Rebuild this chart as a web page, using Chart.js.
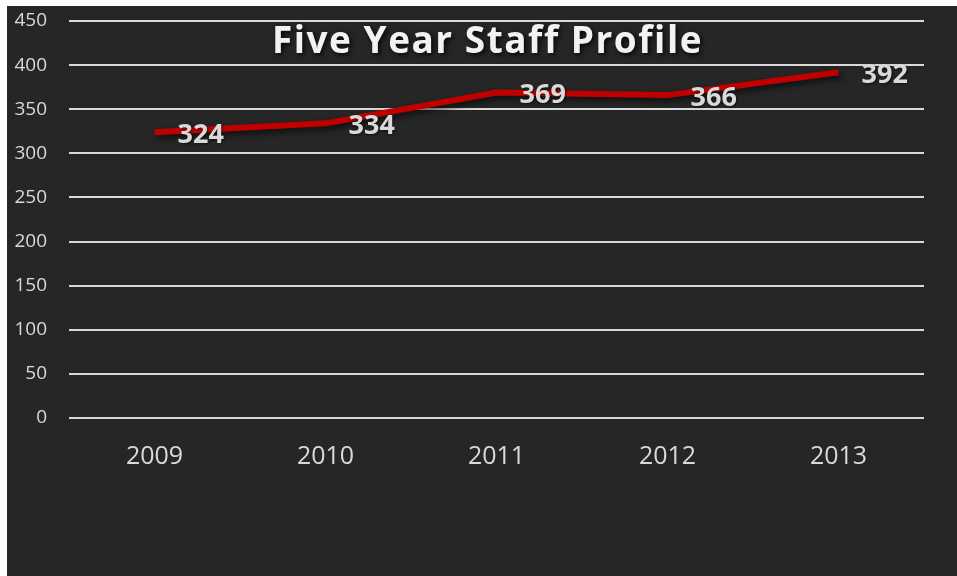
<!DOCTYPE html>
<html>
<head>
<meta charset="utf-8">
<script src="https://cdn.jsdelivr.net/npm/chart.js@4.4.1/dist/chart.umd.min.js"></script>
<style>
  html, body { margin: 0; padding: 0; background: #ffffff; }
  #wrap { position: absolute; left: 7px; top: 6px; width: 950px; height: 570px; background: #262626; }
</style>
</head>
<body>
<div id="wrap"><canvas id="staffChart"></canvas></div>
<script>
// chart data
const years = ['2009', '2010', '2011', '2012', '2013'];
const staffCounts = [324, 334, 369, 366, 392];
const yMin = 0;
const yMax = 450;
const yStep = 50;
const chartTitle = 'Five Year Staff Profile';

// Shadow under the red line
const lineShadow = {
    id: 'lineShadow',
    beforeDatasetDraw(chart) {
        const ctx = chart.ctx;
        ctx.save();
        ctx.shadowColor = 'rgba(0, 0, 0, 0.7)';
        ctx.shadowBlur = 6;
        ctx.shadowOffsetX = 3;
        ctx.shadowOffsetY = 3;
    },
    afterDatasetDraw(chart) {
        chart.ctx.restore();
    },
};

// Value labels next to each point
const valueLabels = {
    id: 'valueLabels',
    afterDatasetsDraw(chart) {
        const ctx = chart.ctx;
        const meta = chart.getDatasetMeta(0);
        ctx.save();
        ctx.font = 'bold 27px "Open Sans"';
        ctx.fillStyle = '#d9d9d9';
        ctx.textAlign = 'left';
        ctx.textBaseline = 'middle';
        ctx.shadowColor = 'rgba(0, 0, 0, 0.6)';
        ctx.shadowBlur = 3;
        ctx.shadowOffsetX = 1;
        ctx.shadowOffsetY = 1;
        meta.data.forEach((pt, i) => {
            ctx.fillText(String(staffCounts[i]), pt.x + 23, pt.y + 3);
        });
        ctx.restore();
    },
};

// Title drawn over the plot area
const overlayTitle = {
    id: 'overlayTitle',
    afterDraw(chart) {
        const ctx = chart.ctx;
        const area = chart.chartArea;
        ctx.save();
        ctx.font = 'bold 37px "Open Sans"';
        ctx.letterSpacing = '1.5px';
        ctx.fillStyle = '#f2f2f2';
        ctx.textAlign = 'center';
        ctx.textBaseline = 'alphabetic';
        ctx.shadowColor = 'rgba(0, 0, 0, 0.85)';
        ctx.shadowBlur = 5;
        ctx.shadowOffsetX = 2;
        ctx.shadowOffsetY = 2;
        ctx.fillText(chartTitle, (area.left + area.right) / 2 - 9, 47);
        ctx.restore();
    },
};

const ctx = document.getElementById('staffChart').getContext('2d');
new Chart(ctx, {
    type: 'line',
    data: {
        labels: years,
        datasets: [{
            label: 'Staff',
            data: staffCounts,
            borderColor: '#c00000',
            borderWidth: 6,
            borderCapStyle: 'butt',
            borderJoinStyle: 'round',
            tension: 0,
            fill: false,
            pointRadius: 0,
            pointHoverRadius: 0,
        }],
    },
    options: {
        responsive: true,
        maintainAspectRatio: false,
        animation: false,
        layout: {
            padding: { left: 0, top: 15, right: 33, bottom: 0 },
        },
        plugins: {
            legend: { display: false },
            title: { display: false },
            tooltip: { enabled: false },
        },
        scales: {
            x: {
                offset: true,
                grid: { display: false, drawTicks: false },
                border: { display: false },
                ticks: {
                    color: '#d9d9d9',
                    font: { family: 'Open Sans', size: 25 },
                    padding: 24,
                },
                afterFit(scale) { scale.height = 158; },
            },
            y: {
                min: yMin,
                max: yMax,
                grid: {
                    color: '#d9d9d9',
                    lineWidth: 2,
                    drawTicks: false,
                },
                border: { display: false },
                ticks: {
                    stepSize: yStep,
                    color: '#d9d9d9',
                    font: { family: 'Open Sans', size: 19 },
                    padding: 22,
                },
                afterFit(scale) {
                    scale.width = 62;
                    scale.paddingTop = 0;
                    scale.paddingBottom = 0;
                },
            },
        },
    },
    plugins: [lineShadow, valueLabels, overlayTitle],
});
</script>
</body>
</html>
